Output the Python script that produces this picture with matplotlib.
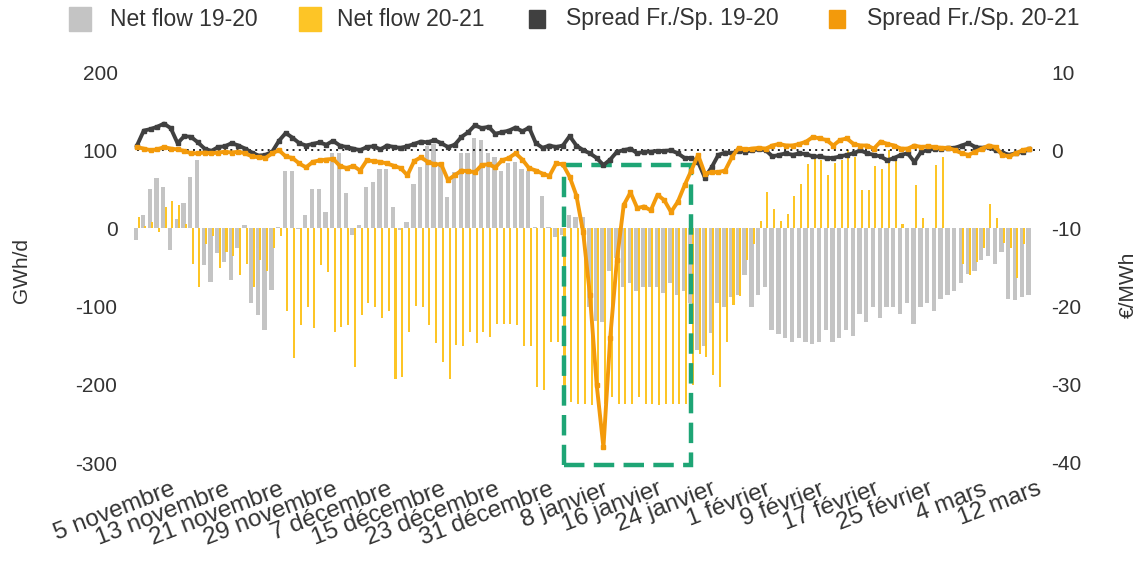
import numpy as np
import pandas as pd
import matplotlib
matplotlib.use("Agg")
import matplotlib.pyplot as plt
from matplotlib.patches import Rectangle
from matplotlib.transforms import ScaledTranslation

plt.rcParams['font.family'] = ['Liberation Sans', 'DejaVu Sans']

# ---------------- data ----------------
dates = pd.date_range('2019-10-31', periods=133, freq='D')

net_flow_1920 = [
    -15, 17, 51, 64, 53, -28, 12, 32, 66, 87,
    -47, -69, -32, -43, -66, -25, 4, -96, -111, -130,
    -79, 2, 74, 74, -1, 17, 51, 51, 21, 97,
    97, 45, -9, 4, 53, 59, 76, 76, 27, -2,
    8, 57, 78, 106, 108, 83, 40, 72, 96, 96,
    115, 113, 96, 91, 74, 83, 85, 76, 74, 2,
    42, 2, -11, -9, 17, 15, 15, -100, -118, -120,
    -55, -38, -75, -70, -80, -75, -75, -75, -83, -70,
    -85, -80, -95, -156, -150, -134, -96, -100, -88, -85,
    -60, -100, -85, -75, -130, -135, -140, -145, -140, -145,
    -148, -145, -130, -145, -140, -130, -138, -110, -120, -100,
    -115, -100, -100, -110, -95, -122, -100, -95, -105, -90,
    -85, -80, -70, -58, -55, -40, -35, -45, -30, -90,
    -92, -88, -85]

net_flow_2021 = [
    15, 3, 8, -5, 27, 35, 30, 5, -45, -75,
    -20, -10, -50, -30, -35, -60, -45, -75, -40, -55,
    -25, -10, -105, -166, -124, -101, -128, -47, -56, -133,
    -126, -124, -177, -111, -96, -100, -114, -105, -192, -190,
    -133, -99, -100, -124, -147, -171, -192, -149, -150, -133,
    -147, -133, -139, -122, -122, -122, -124, -150, -150, -203,
    -207, -145, -145, -215, -222, -224, -224, -226, -224, -224,
    -216, -224, -224, -224, -215, -224, -224, -226, -224, -224,
    -224, -224, -200, -160, -165, -188, -203, -145, -98, -87,
    -40, -20, 10, 46, 25, 10, 19, 41, 57, 82,
    89, 87, 68, 83, 87, 100, 91, 49, 49, 80,
    76, 100, 87, 5, 0, 55, 13, 0, 81, 91,
    0, 0, -45, -60, -43, -25, 31, 13, -19, -25,
    -63, -20, 0]

spread_1920 = [
    0.6, 2.5, 2.7, 3.0, 3.4, 2.8, 0.9, 1.8, 1.7, 1.0,
    0.2, -0.1, 0.4, 0.5, 0.9, 0.6, 0.2, -0.3, -0.7, -0.6,
    -0.2, 1.2, 2.2, 1.6, 0.9, 0.6, 0.8, 1.0, 0.7, 1.2,
    0.6, 0.4, 0.2, 0.0, 0.4, 0.5, 0.1, 0.6, 0.4, 0.3,
    0.5, 0.8, 1.1, 1.0, 1.3, 0.9, 0.4, 0.7, 1.7, 2.3,
    3.2, 2.8, 3.0, 2.1, 2.3, 2.5, 2.9, 2.4, 2.9, 0.9,
    0.3, 0.6, 0.4, 0.6, 1.8, 0.6, 0.0, -0.4, -1.0, -1.9,
    -1.2, -0.2, 0.0, 0.2, -0.4, -0.2, -0.2, -0.1, -0.1, 0.0,
    -0.4, -1.0, -1.0, -1.5, -3.5, -2.2, -0.6, -0.3, -0.4, -0.1,
    -0.2, 0.0, 0.1, 0.0, -0.8, -0.6, -0.4, -0.6, -0.4, -0.5,
    -0.8, -0.8, -1.0, -1.0, -0.8, -0.6, -0.4, 0.0, -0.4, -0.6,
    -0.8, -1.3, -1.0, -0.6, -0.4, -1.5, -0.2, 0.0, 0.2, 0.2,
    0.3, 0.3, 0.6, 0.9, 0.4, 0.3, 0.4, 0.0, -0.3, -0.6,
    -0.4, -0.2, 0.1]

spread_2021 = [
    0.4, 0.2, 0.0, 0.1, 0.4, 0.2, 0.1, -0.1, -0.4, -0.4,
    -0.3, -0.4, -0.3, -0.2, -0.3, -0.2, -0.4, -0.8, -0.9, -1.0,
    -0.4, 0.0, -0.8, -1.0, -1.7, -2.2, -1.5, -1.3, -1.2, -1.1,
    -2.0, -2.3, -2.0, -2.6, -1.3, -1.4, -1.5, -1.7, -2.0, -2.3,
    -3.2, -1.4, -0.9, -1.5, -1.8, -1.8, -3.8, -3.2, -2.6, -2.7,
    -2.8, -1.9, -1.8, -2.2, -1.3, -1.0, -0.4, -1.2, -2.3, -2.6,
    -3.0, -3.3, -1.7, -1.8, -3.4, -5.8, -10.5, -18.5, -30.0, -38.0,
    -24.0, -14.0, -7.0, -5.4, -7.4, -7.2, -7.7, -5.7, -6.4, -7.9,
    -6.6, -4.5, -2.6, -0.6, -3.0, -2.8, -2.8, -2.6, -0.9, 0.3,
    0.1, 0.2, 0.3, 0.2, 0.6, 0.8, 0.6, 0.6, 0.8, 1.1,
    1.7, 1.5, 1.3, 0.6, 1.3, 1.5, 0.8, 0.6, 0.6, 0.2,
    1.1, 0.8, 0.6, 0.2, 0.2, 0.6, 0.4, 0.5, 0.4, 0.3,
    0.3, 0.0, -0.4, -0.6, -0.2, 0.2, 0.6, 0.4, -0.6, -0.8,
    -0.4, 0.0, 0.2]

tick_dates = pd.date_range('2019-11-05', periods=17, freq='8D')
tick_labels = ['5 novembre', '13 novembre', '21 novembre', '29 novembre',
               '7 décembre', '15 décembre', '23 décembre', '31 décembre',
               '8 janvier', '16 janvier', '24 janvier', '1 février',
               '9 février', '17 février', '25 février', '4 mars', '12 mars']

left_ticks = [200, 100, 0, -100, -200, -300]
right_ticks = [10, 0, -10, -20, -30, -40]

series_names = ['Net flow 19-20', 'Net flow 20-21',
                'Spread Fr./Sp. 19-20', 'Spread Fr./Sp. 20-21']

highlight_start = pd.Timestamp('2020-01-02')
highlight_end = pd.Timestamp('2020-01-21')

# ---------------- style ----------------
C_GREY = '#C4C4C4'
C_YELLOW = '#FDC526'
C_DARK = '#404040'
C_ORANGE = '#F39A0B'
C_GREEN = '#1EA575'
C_TEXT = '#333333'

W, H = 1146, 565
fig = plt.figure(figsize=(W / 100, H / 100), dpi=100)
L, R, T, B = 130, 1040, 72, 463
ax = fig.add_axes([L / W, 1 - B / H, (R - L) / W, (B - T) / H])

x = np.arange(len(dates))
day_px = 6.76
xmin = -(137 - L) / day_px
xmax = xmin + (R - L) / day_px

ax.bar(x - 0.12, net_flow_1920, width=0.64, color=C_GREY, zorder=2)
ax.bar(x + 0.24, net_flow_2021, width=0.3, color=C_YELLOW, zorder=3)

ax.set_xlim(xmin, xmax)
ax.set_ylim(-300, 200)
ax.set_yticks(left_ticks)
ax.set_yticklabels([str(v) for v in left_ticks])

ax2 = ax.twinx()
ax2.set_ylim(-40, 10)
ax2.set_yticks(right_ticks)
ax2.set_yticklabels([str(v) for v in right_ticks])
ax2.set_xlim(xmin, xmax)

ax2.axhline(0, xmin=(137 - L) / (R - L), xmax=1.0, color='#222222',
            lw=1.4, ls=(0, (1, 2.2)), zorder=1)
ax2.plot(x, spread_1920, color=C_DARK, lw=2.8, marker='s', ms=3.2,
         zorder=3, solid_joinstyle='round')
ax2.plot(x, spread_2021, color=C_ORANGE, lw=2.8, marker='s', ms=3.2,
         zorder=4, solid_joinstyle='round')

# highlight box (annotation)
x0 = (highlight_start - dates[0]).days + 0.1
x1 = (highlight_end - dates[0]).days + 0.0
box = Rectangle((x0, -303), x1 - x0, 384, fill=False, edgecolor=C_GREEN,
                lw=3.2, ls=(0, (4.6, 2.1)), clip_on=False, zorder=6)
ax.add_patch(box)

tick_pos = [(d - dates[0]).days for d in tick_dates]
ax.set_xticks(tick_pos)
ax.set_xticklabels(tick_labels, rotation=21, ha='right', va='top',
                   rotation_mode='anchor', fontsize=17.5, color=C_TEXT)
for lbl in ax.get_xticklabels():
    lbl.set_transform(lbl.get_transform() +
                      ScaledTranslation(0.10, 0, fig.dpi_scale_trans))

for a in (ax, ax2):
    for s in a.spines.values():
        s.set_visible(False)
ax.tick_params(axis='x', length=0, pad=11)
ax.tick_params(axis='y', length=0, pad=9, labelsize=15, labelcolor=C_TEXT)
ax2.tick_params(axis='y', length=0, pad=8, labelsize=15, labelcolor=C_TEXT)

fig.text(22 / W, 1 - 270 / H, 'GWh/d', rotation=90, ha='center', va='center',
         fontsize=15, color=C_TEXT)
fig.text(1128 / W, 1 - 285 / H, '€/MWh', rotation=90, ha='center', va='center',
         fontsize=15, color=C_TEXT)

# legend (manual)
leg_items = [
    (series_names[0], C_GREY, 69, 22, 24, 110),
    (series_names[1], C_YELLOW, 299, 22, 24, 337),
    (series_names[2], C_DARK, 529, 16, 18, 566),
    (series_names[3], C_ORANGE, 829, 16, 18, 867),
]
ly = 19
for name, col, px, pw, ph, tx in leg_items:
    fig.add_artist(Rectangle((px / W, 1 - (ly + ph / 2) / H), pw / W, ph / H,
                             transform=fig.transFigure, color=col))
    fig.text(tx / W, 1 - ly / H, name, ha='left', va='center',
             fontsize=16.5, color=C_TEXT)

fig.savefig('out.png', dpi=100)
